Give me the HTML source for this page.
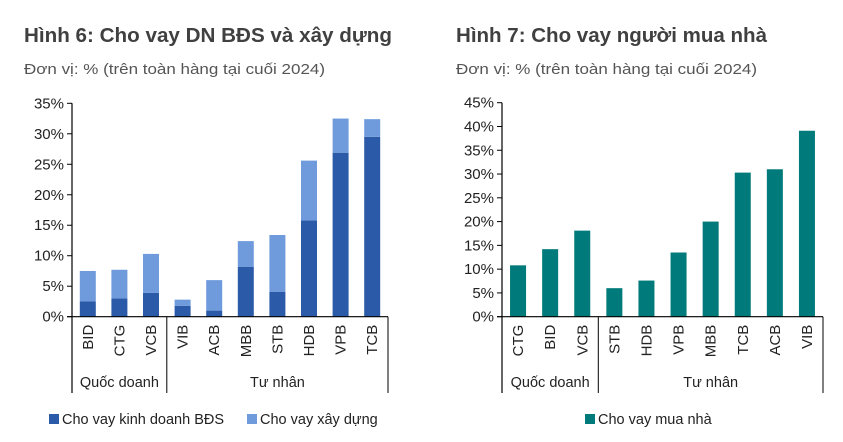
<!DOCTYPE html>
<html><head><meta charset="utf-8">
<style>
body{margin:0;background:#fff;width:843px;height:442px;overflow:hidden;font-family:"Liberation Sans",sans-serif;}
svg{position:absolute;left:0;top:0}
</style></head>
<body>
<svg id="c" width="843" height="442" xmlns="http://www.w3.org/2000/svg">
<text x="24" y="42" font-size="20" font-weight="bold" fill="#404040" textLength="368" lengthAdjust="spacingAndGlyphs">Hình 6: Cho vay DN BĐS và xây dựng</text>
<text x="24" y="74" font-size="15" fill="#555" textLength="301" lengthAdjust="spacingAndGlyphs">Đơn vị: % (trên toàn hàng tại cuối 2024)</text>
<text x="456" y="42" font-size="20" font-weight="bold" fill="#404040" textLength="311" lengthAdjust="spacingAndGlyphs">Hình 7: Cho vay người mua nhà</text>
<text x="456" y="74" font-size="15" fill="#555" textLength="301" lengthAdjust="spacingAndGlyphs">Đơn vị: % (trên toàn hàng tại cuối 2024)</text>
</svg>
<script>
const leftCats=["BID","CTG","VCB","VIB","ACB","MBB","STB","HDB","VPB","TCB"];
const leftBiz=[2.5,3.0,3.9,1.8,1.0,8.2,4.1,15.8,26.9,29.5];
const leftBuild=[5.0,4.7,6.4,1.0,5.0,4.2,9.3,9.8,5.6,2.9];
const leftTicks=[0,5,10,15,20,25,30,35];
const rightCats=["CTG","BID","VCB","STB","HDB","VPB","MBB","TCB","ACB","VIB"];
const rightVals=[10.8,14.2,18.1,6.0,7.6,13.5,20.0,30.3,31.0,39.1];
const rightTicks=[0,5,10,15,20,25,30,35,40,45];
const groups=["Quốc doanh","Tư nhân"];
const groupSize=[3,7];

const svg=document.getElementById('c');
const NS="http://www.w3.org/2000/svg";
function el(t,a,txt){const e=document.createElementNS(NS,t);for(const k in a)e.setAttribute(k,a[k]);if(txt!==undefined)e.textContent=txt;svg.appendChild(e);return e;}

function drawChart(o){
  const y0=316.7,yTop=o.yTop,x0=o.x0,x1=o.x1,max=o.max;
  const Y=v=>y0-(v/max)*(y0-yTop);
  const bw=(x1-x0)/o.cats.length;
  const X=i=>x0+bw*(i+0.5);
  o.ticks.forEach(t=>{
    const l=el('line',{x1:x0-5,x2:x0,y1:Y(t),y2:Y(t),stroke:'#000','stroke-width':1});
    
    
    const tx=el('text',{x:x0-8,y:Y(t)+5,'font-size':15,fill:'#222','text-anchor':'end'},t+'%');
    
    
  });
  o.cats.forEach((c,i)=>{
    let base=0;
    o.series.forEach(s=>{
      const v=s.vals[i];
      const r=el('rect',{x:X(i)-8,y:Y(base+v),width:16,height:Y(base)-Y(base+v),fill:s.color});
      
      
      base+=v;
    });
    const t=el('text',{x:0,y:0,'font-size':15,fill:'#222','text-anchor':'end',transform:`translate(${X(i)+5},${y0+8}) rotate(-90)`},c);
    
    
  });
  const ax=el('line',{x1:x0,x2:x0,y1:yTop,y2:393,stroke:'#000','stroke-width':1.2});
  
  
  const bx=el('line',{x1:x0-5,x2:x1,y1:y0,y2:y0,stroke:'#000','stroke-width':1.2});
  
  
  const er=el('line',{x1:x1,x2:x1,y1:y0,y2:393,stroke:'#000','stroke-width':1});
  
  
  let start=0;
  groups.forEach((g,gi)=>{
    const end=start+groupSize[gi];
    const gx=el('text',{x:(x0+bw*start+x0+bw*end)/2,y:387,'font-size':14.5,fill:'#222','text-anchor':'middle'},g);
    
    
    if(gi<groups.length-1){
      const d=el('line',{x1:x0+bw*end,x2:x0+bw*end,y1:y0,y2:393,stroke:'#000','stroke-width':1});
      
      
    }
    start=end;
  });
}
drawChart({x0:72,x1:388,yTop:103.3,max:35,ticks:leftTicks,cats:leftCats,
  series:[{key:'biz',vals:leftBiz,color:'#2B5BA8'},{key:'build',vals:leftBuild,color:'#6F9BDC'}]});
drawChart({x0:502,x1:823,yTop:102.7,max:45,ticks:rightTicks,cats:rightCats,
  series:[{key:'home',vals:rightVals,color:'#007A7A'}]});

function legend(x,color,label,name){
  const r=el('rect',{x:x,y:414,width:10,height:10,fill:color});
  
  
  const t=el('text',{x:x+13,y:424,'font-size':14.5,fill:'#222'},label);
  
  
}
legend(49,'#2B5BA8','Cho vay kinh doanh BĐS','legend-entry-biz');
legend(247,'#6F9BDC','Cho vay xây dựng','legend-entry-build');
legend(585,'#007A7A','Cho vay mua nhà','legend-entry-home');
</script>
</body></html>
